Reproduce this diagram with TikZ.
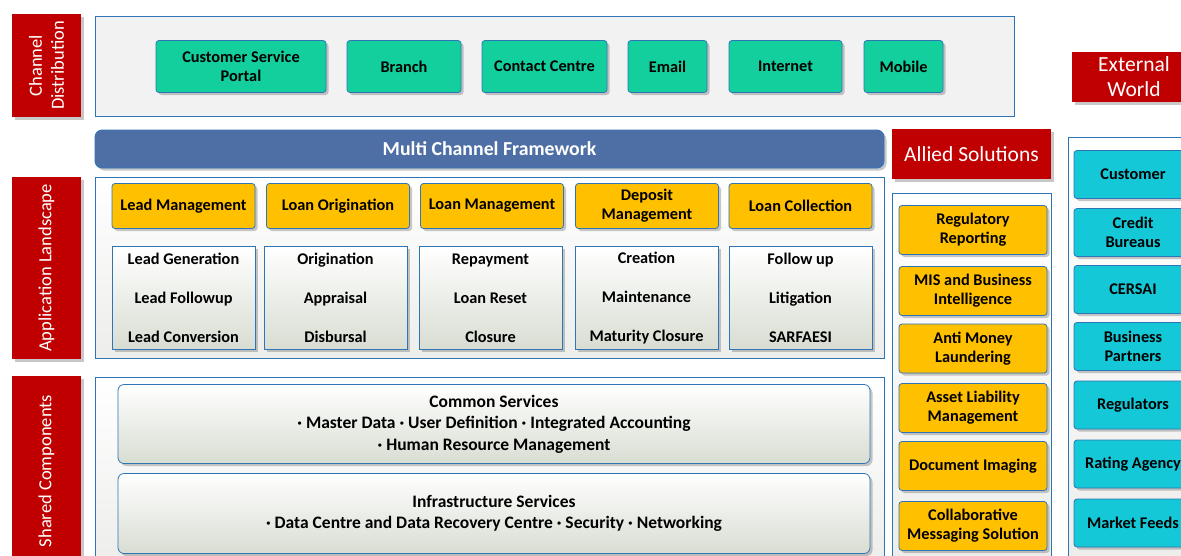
\documentclass[tikz,border=0pt]{standalone}
\usepackage{fontspec}
\setmainfont{Carlito}
\usetikzlibrary{shadows}
\definecolor{bordblue}{HTML}{2E75B6}
\definecolor{redlab}{HTML}{C00000}
\definecolor{tealbox}{HTML}{13CF9E}
\definecolor{goldbox}{HTML}{FFC000}
\definecolor{cyanbox}{HTML}{14C8D7}
\definecolor{barblue}{HTML}{4E6FA6}
\definecolor{subgray}{HTML}{D8DDD2}
\definecolor{outgray}{HTML}{F2F2F2}
\begin{document}
\begin{tikzpicture}[x=1pt,y=-1pt,
  shd/.style={drop shadow={shadow xshift=2.5pt,shadow yshift=-2.5pt,opacity=0.3,fill=black!70}},
  base/.style={draw=bordblue,line width=0.8pt,inner sep=2pt,align=center,text=black,
    font=\bfseries\fontsize{16.3}{19}\selectfont},
  chan/.style={base,shd,fill=tealbox,rounded corners=3pt,minimum height=52pt},
  yel/.style={base,shd,fill=goldbox,rounded corners=3pt,minimum height=45pt,minimum width=143pt},
  ally/.style={base,shd,fill=goldbox,rounded corners=3pt,minimum height=49pt,minimum width=148pt},
  cyb/.style={base,shd,fill=cyanbox,rounded corners=3pt,minimum width=118pt,minimum height=48pt},
  subbox/.style={base,shd,top color=white,bottom color=subgray,minimum width=143pt,minimum height=103pt},
  svc/.style={base,shd,rounded corners=6pt,top color=white,bottom color=subgray,minimum width=752pt,
    font=\bfseries\fontsize{17.5}{21.5}\selectfont},
  redbox/.style={fill=redlab,shd,inner sep=0pt},
  redtxt/.style={text=white,align=center,font=\fontsize{18.5}{22}\selectfont},
  outer/.style={draw=bordblue,line width=0.8pt,fill=outgray,inner sep=0pt},
  gradouter/.style={draw=bordblue,line width=0.8pt,top color=white,bottom color=outgray!80!subgray,inner sep=0pt}
]
\useasboundingbox (0,0) rectangle (1181,555);
\fill[white] (0,0) rectangle (1181,555);

% ---------- Channel distribution ----------
\node[redbox,minimum width=69pt,minimum height=103pt] (chd) at (46.5,65.5) {};
\node[redtxt,rotate=90] (chdt) at (chd.center) {Channel\\Distribution};
\node[outer,minimum width=919pt,minimum height=100pt] (chbox) at (554.5,66) {};
\node[chan,minimum width=170pt] (csp) at (241,66.5) {Customer Service\\Portal};
\node[chan,minimum width=114pt] (branch) at (404,66.5) {Branch};
\node[chan,minimum width=125pt] (contact) at (544.5,66.5) {Contact Centre};
\node[chan,minimum width=79pt] (email) at (667.5,66.5) {Email};
\node[chan,minimum width=113pt] (internet) at (785.5,66.5) {Internet};
\node[chan,minimum width=79pt] (mobile) at (903.5,66.5) {Mobile};

% ---------- External world ----------
\node[redbox,minimum width=124pt,minimum height=50pt] (ext) at (1134,77) {};
\node[redtxt,font=\fontsize{21.5}{25}\selectfont] (extt) at (ext.center) {External\\World};

% ---------- Multi channel framework ----------
\node[draw=bordblue,line width=0.8pt,fill=barblue,rounded corners=7pt,shd,minimum width=789pt,minimum height=38pt,
  text=white,font=\bfseries\fontsize{19.8}{22}\selectfont] (mcf) at (489.5,149) {Multi Channel Framework};

% ---------- Allied solutions ----------
\node[redbox,minimum width=159pt,minimum height=50pt] (allied) at (971.5,154) {};
\node[redtxt,font=\fontsize{21.5}{25}\selectfont] (alliedt) at (allied.center) {Allied Solutions};

% ---------- Application landscape ----------
\node[redbox,minimum width=69pt,minimum height=182pt] (apl) at (46.5,268) {};
\node[redtxt,rotate=90] (aplt) at (apl.center) {Application Landscape};
\node[gradouter,minimum width=789pt,minimum height=181pt] (appbox) at (489.5,267.5) {};

\node[yel] (lm) at (183.5,206) {Lead Management};
\node[yel] (lo) at (338,206) {Loan Origination};
\node[yel] (lmg) at (492,206) {Loan Management};
\node[yel] (dm) at (647,206) {Deposit\\Management};
\node[yel] (lc) at (800.5,206) {Loan Collection};

\node[subbox] (s1) at (183.5,298) {Lead Generation\\[20pt]Lead Followup\\[20pt]Lead Conversion};
\node[subbox] (s2) at (335.5,298) {Origination\\[20pt]Appraisal\\[20pt]Disbursal};
\node[subbox] (s3) at (490.5,298) {Repayment\\[20pt]Loan Reset\\[20pt]Closure};
\node[subbox] (s4) at (646.5,298) {Creation\\[20pt]Maintenance\\[20pt]Maturity Closure};
\node[subbox] (s5) at (800.5,298) {Follow up\\[20pt]Litigation\\[20pt]SARFAESI};

% ---------- Shared components ----------
\node[redbox,minimum width=69pt,minimum height=188pt] (shc) at (46.5,470) {};
\node[redtxt,rotate=90] (shct) at (46.5,471) {Shared Components};
\node[gradouter,minimum width=789pt,minimum height=188pt] (shbox) at (489.5,471) {};
\node[svc,minimum height=79pt] (common) at (494,424)
  {Common Services\\· Master Data · User Definition · Integrated Accounting\\· Human Resource Management};
\node[svc,minimum height=80pt] (infra) at (494,513.5)
  {Infrastructure Services\\· Data Centre and Data Recovery Centre · Security · Networking};

% ---------- Allied boxes ----------
\node[gradouter,minimum width=159pt,minimum height=372pt] (allbox) at (971.5,379) {};
\node[ally] (rr) at (973,230) {Regulatory\\Reporting};
\node[ally] (mis) at (973,291) {MIS and Business\\Intelligence};
\node[ally] (aml) at (973,348.5) {Anti Money\\Laundering};
\node[ally] (alm) at (973,408) {Asset Liability\\Management};
\node[ally] (di) at (973,466) {Document Imaging};
\node[ally] (cms) at (973,526) {Collaborative\\Messaging Solution};

% ---------- External boxes ----------
\node[gradouter,minimum width=132pt,minimum height=428pt] (extbox) at (1134,351) {};
\node[cyb] (cust) at (1133,174.5) {Customer};
\node[cyb] (cb) at (1133,232.5) {Credit\\Bureaus};
\node[cyb] (cersai) at (1133,289.5) {CERSAI};
\node[cyb] (bp) at (1133,346.5) {Business\\Partners};
\node[cyb] (reg) at (1133,405) {Regulators};
\node[cyb] (ra) at (1133,464) {Rating Agency};
\node[cyb] (mf) at (1133,523) {Market Feeds};
\end{tikzpicture}
\end{document}
